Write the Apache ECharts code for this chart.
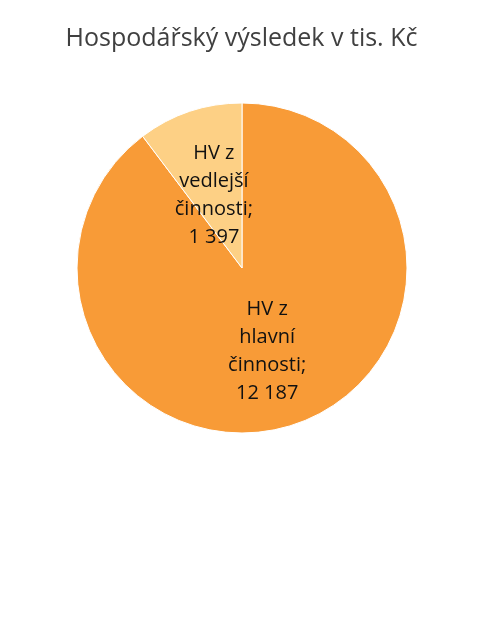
<!DOCTYPE html>
<html><head><meta charset="utf-8">
<script src="https://cdn.jsdelivr.net/npm/echarts@6/dist/echarts.min.js"></script>
<style>html,body{margin:0;padding:0;background:#fff}#c{width:483px;height:635px}</style>
</head><body><div id="c"></div>
<script>
const categories = ['HV z\nhlavní\nčinnosti', 'HV z\nvedlejší\nčinnosti'];
const values = [12187, 1397];
const colors = ['#F89B37', '#FDD085'];
const labelOffsets = [[-2, 2], [-1, 8]];

function fmt(v) { return String(v).replace(/\B(?=(\d{3})+(?!\d))/g, ' '); }

const chart = echarts.init(document.getElementById('c'));
chart.setOption({
  animation: false,
  title: {
    text: 'Hospodářský výsledek v tis. Kč',
    left: 'center', top: 21,
    textStyle: { fontFamily: 'Open Sans', fontWeight: 'normal', fontSize: 25, color: '#404040' }
  },
  series: [{
    type: 'pie',
    center: [242, 268],
    radius: 165,
    startAngle: 90,
    clockwise: true,
    itemStyle: { borderColor: '#fff', borderWidth: 1 },
    label: {
      position: 'inside',
      fontFamily: 'Open Sans', fontSize: 20, lineHeight: 28, color: '#111',
      formatter: p => p.name + ';\n' + fmt(p.value)
    },
    labelLine: { show: false },
    emphasis: { disabled: true },
    data: categories.map((n, i) => ({
      name: n, value: values[i],
      itemStyle: { color: colors[i] },
      label: { offset: labelOffsets[i] }
    }))
  }]
});
</script></body></html>
